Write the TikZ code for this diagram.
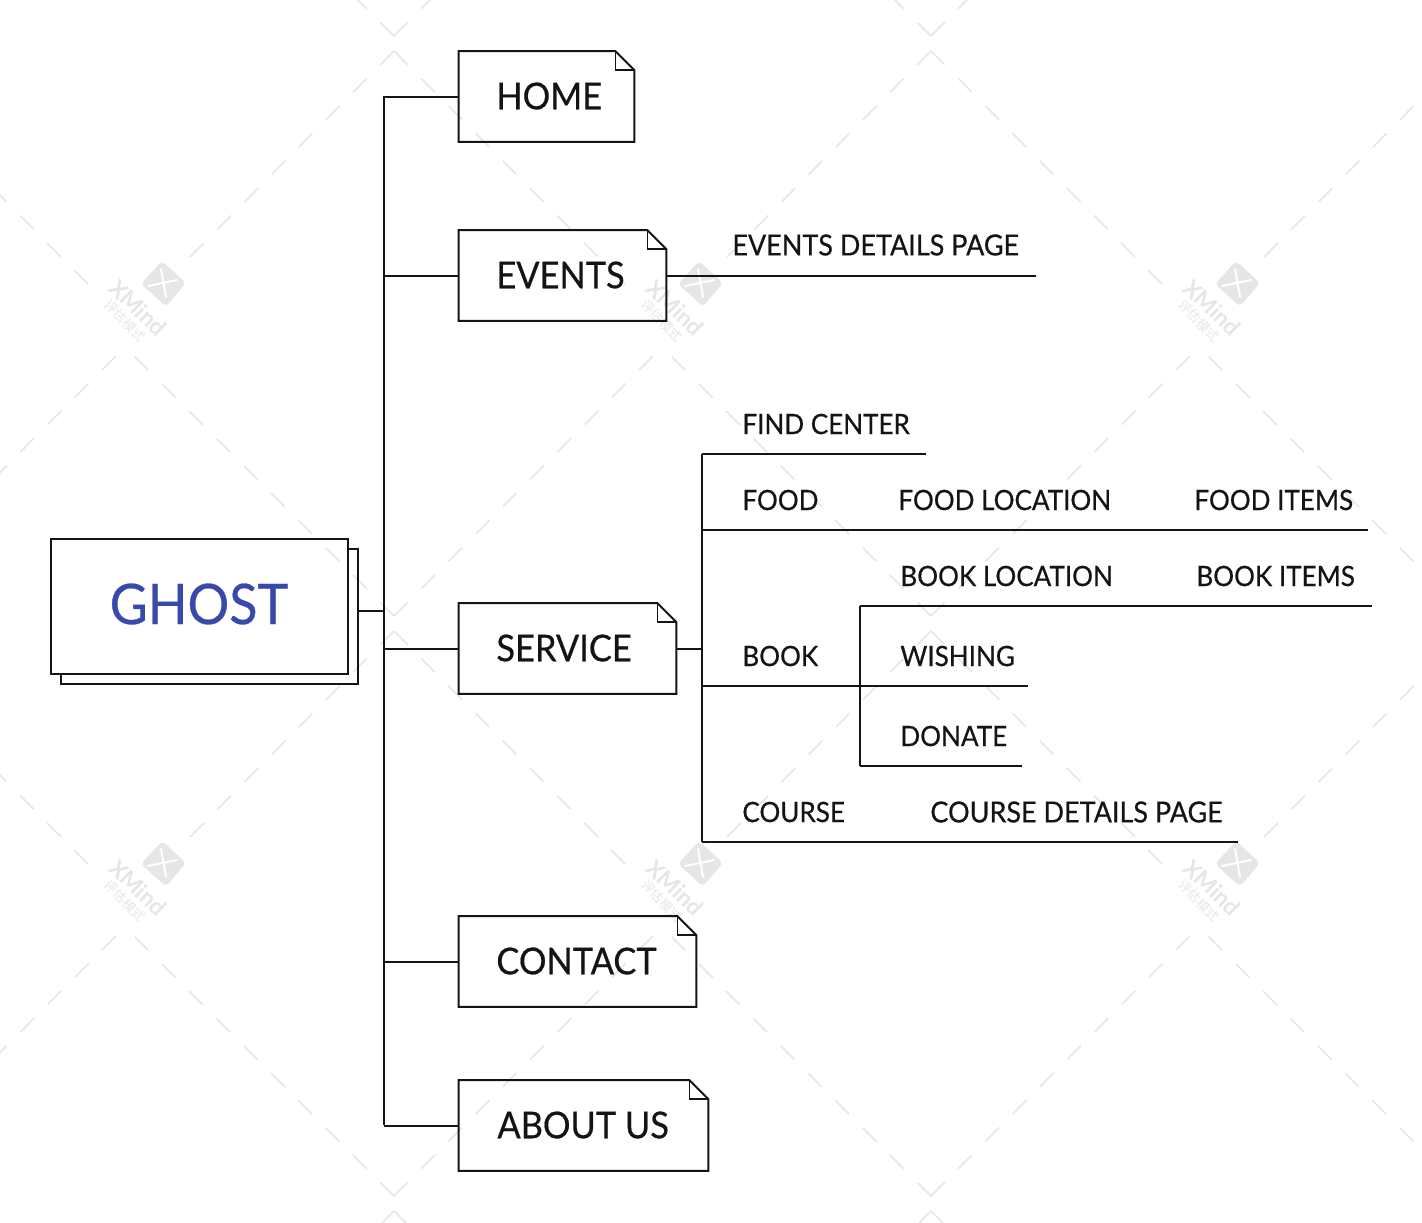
\documentclass[tikz,border=0pt]{standalone}
\usepackage{fontspec}
\setmainfont[FakeStretch=0.93,FakeBold=0.5]{Lato}
\newfontfamily\stampfont{Lato}
\newfontfamily\cjkfont{Noto Sans CJK SC}
\usetikzlibrary{positioning}
\usetikzlibrary{calc}
\definecolor{inkblack}{HTML}{141414}
\definecolor{ghostblue}{HTML}{3949AB}
\definecolor{markgray}{HTML}{E6E6E6}
\tikzset{
  boxline/.style={color=inkblack,line width=1pt,line join=miter},
  linkline/.style={color=inkblack,line width=1pt},
  wmline/.style={color=markgray,line width=0.8pt,dash pattern=on 9.7pt off 9.6pt},
  notetext/.style={inner sep=0pt,anchor=west,text=inkblack,font=\fontsize{18.5}{20}\selectfont},
  leaftext/.style={inner sep=0pt,anchor=west,text=inkblack,font=\fontsize{14}{16}\selectfont},
  longtext/.style={leaftext,font=\fontsize{14.5}{16}\selectfont}
}
% one page box with a folded corner round a named empty node
\newcommand{\foldbox}[4]{%
  \node[inner sep=0pt,minimum width=#4*0.5pt,minimum height=45pt] (#1) at (#2,#3) {};
  \draw[boxline] (#1.south west) -- (#1.north west) -- ([xshift=-9.5pt]#1.north east)
    -- ([yshift=-9.5pt]#1.north east) -- (#1.south east) -- cycle;
  \draw[boxline,line width=0.8pt] ([xshift=-9.5pt]#1.north east) -- ([xshift=-9.5pt,yshift=-9.5pt]#1.north east)
    -- ([yshift=-9.5pt]#1.north east);
}
% the grey stamp next to each crossing
\newcommand{\xstamp}[2]{%
  \begin{scope}[shift={(#1,#2)}]
    \fill[markgray,rounded corners=2pt] (-22,1) -- (-1,-22) -- (23,0) -- (3,23.5) -- cycle;
    \draw[white,line width=1pt,line cap=round] (-2,-14) -- (3,14) (-15,3) -- (14,-3);
    \node[inner sep=0pt,rotate=-44,text=markgray,font=\stampfont\fontsize{11.5}{13}\bfseries\selectfont] (wm#1#2a) at (-25,25) {XMind};
    \node[inner sep=0pt,rotate=-47,text=markgray,font=\cjkfont\fontsize{6.5}{7}\selectfont] (wm#1#2b) at (-38,38) {评估模式};
  \end{scope}
}

\begin{document}
\begin{tikzpicture}[x=0.5pt,y=-0.5pt]
\useasboundingbox (0,0) rectangle (1422,1222);

\begin{scope}
\clip (0,0) rectangle (1422,1222);
\foreach \tilex in {-537,0,537,1074}{
  \foreach \tiley in {-580,0,580,1160}{
    \begin{scope}[xshift=\tilex*0.5pt,yshift=-\tiley*0.5pt]
    \draw[wmline] (394,51) -- (190,257);
    \draw[wmline] (394,51) -- (627,286);
    \draw[wmline] (394,616) -- (132,354);
    \draw[wmline] (394,616) -- (655,354);
    \end{scope}
  }
}
\end{scope}
\foreach \sx in {163,700,1237}{
  \xstamp{\sx}{283}
  \xstamp{\sx}{863}
}

\node[inner sep=0pt,minimum width=148.5pt,minimum height=67.5pt] (rootback) at (209.5,616.5) {};
\node[draw,boxline,inner sep=0pt,minimum width=148.5pt,minimum height=67.5pt] (root) at (199.5,606.5) {};
\node[inner sep=0pt,text=ghostblue,font=\fontsize{28}{32}\selectfont] (ghost) at (199,604) {GHOST};
\draw[boxline] (root.north east |- rootback.north east) -- (rootback.north east) -- (rootback.south east)
  -- (rootback.south west) -- (rootback.south west |- root.south west);

\foldbox{home}{546.5}{96.5}{175}
\foldbox{events}{562.5}{275.5}{207}
\foldbox{service}{567.5}{648.5}{217}
\foldbox{contact}{577.5}{961.5}{237}
\foldbox{about}{583.5}{1125.5}{249}
\node[notetext] (hometext) at (496,96) {HOME};
\node[notetext] (eventstext) at (496,275) {EVENTS};
\node[notetext] (servicetext) at (496,648) {SERVICE};
\node[notetext] (contacttext) at (496,961) {CONTACT};
\node[notetext] (abouttext) at (497,1125) {ABOUT US};

\coordinate (stem) at (358,611);
\coordinate (hub) at (384,611);
\coordinate (trunktop) at (384,96);
\coordinate (trunkend) at (384,1125);
\draw[linkline] (stem) -- (hub);
\draw[linkline] (trunktop) -- (trunkend);
\draw[linkline] (home.west) -- (home.west -| hub);
\draw[linkline] (events.west) -- (events.west -| hub);
\draw[linkline] (service.west) -- (service.west -| hub);
\draw[linkline] (contact.west) -- (contact.west -| hub);
\draw[linkline] (about.west) -- (about.west -| hub);

\node[longtext] (evdetail) at (732,245) {EVENTS DETAILS PAGE};
\coordinate (evdetailend) at (1036,275.5);
\draw[linkline] (events.east) -- (evdetailend);

\coordinate (servup) at (702,454);
\coordinate (servdown) at (702,842);
\coordinate (servhub) at (702,648.5);
\draw[linkline] (service.east) -- (servhub);
\draw[linkline] (servup) -- (servdown);

\node[leaftext] (findcenter) at (742,424) {FIND CENTER};
\coordinate (findend) at (926,454);
\draw[linkline] (servup) -- (findend);

\node[leaftext] (food) at (742,500) {FOOD};
\node[leaftext] (foodloc) at (898,500) {FOOD LOCATION};
\node[leaftext] (fooditems) at (1194,500) {FOOD ITEMS};
\coordinate (foodstart) at (702,530);
\coordinate (foodend) at (1368,530);
\draw[linkline] (foodstart) -- (foodend);

\node[leaftext] (book) at (742,656) {BOOK};
\node[leaftext] (bookloc) at (900,576) {BOOK LOCATION};
\node[leaftext] (bookitems) at (1196,576) {BOOK ITEMS};
\node[leaftext] (wishing) at (900,656) {WISHING};
\node[leaftext] (donate) at (900,736) {DONATE};
\coordinate (bookstart) at (702,686);
\coordinate (wishend) at (1028,686);
\coordinate (bookup) at (860,606);
\coordinate (bookdown) at (860,766);
\coordinate (booklocend) at (1372,606);
\coordinate (donateend) at (1022,766);
\draw[linkline] (bookstart) -- (wishend);
\draw[linkline] (bookup) -- (bookdown);
\draw[linkline] (bookup) -- (booklocend);
\draw[linkline] (bookdown) -- (donateend);

\node[leaftext] (course) at (742,812) {COURSE};
\node[longtext] (coursedetail) at (930,812) {COURSE DETAILS PAGE};
\coordinate (courseend) at (1238,842);
\draw[linkline] (servdown) -- (courseend);
\end{tikzpicture}
\end{document}
